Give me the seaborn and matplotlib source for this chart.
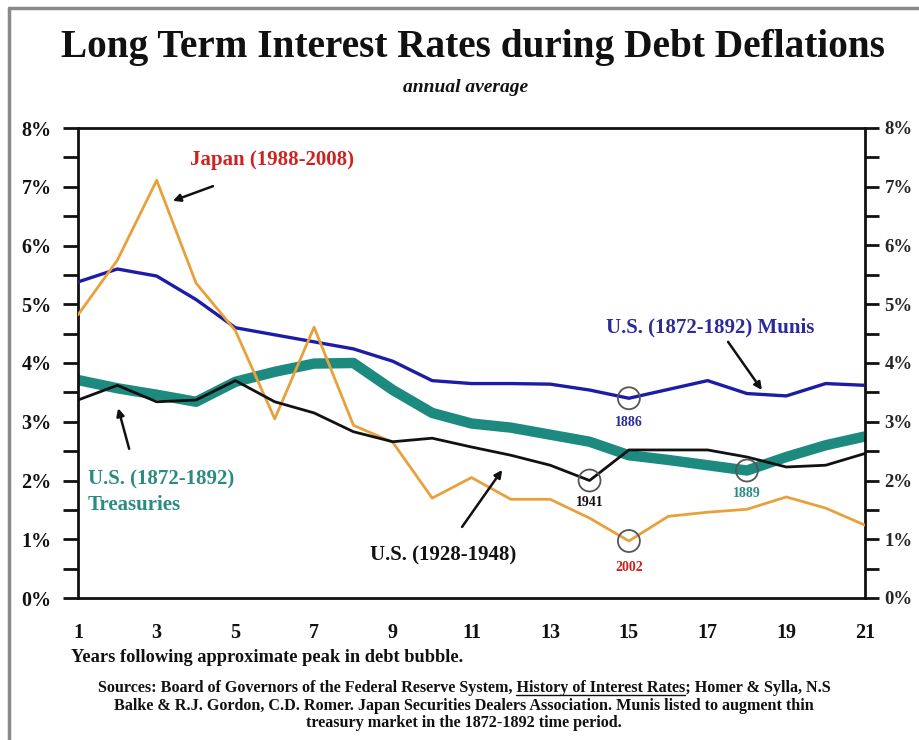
import matplotlib
matplotlib.use("Agg")
import matplotlib.pyplot as plt
import numpy as np
import pandas as pd
import seaborn as sns
from matplotlib.ticker import MultipleLocator, FuncFormatter
from matplotlib.lines import Line2D

# Years following the approximate peak in the debt bubble
years = list(range(1, 22))

# Long-term interest rates, annual average (%)
japan_1988_2008 = [4.82, 5.75, 7.11, 5.36, 4.55, 3.05, 4.61, 2.94, 2.65, 1.70,
                   2.05, 1.68, 1.68, 1.36, 0.97, 1.39, 1.46, 1.51, 1.72, 1.53, 1.24]
us_munis_1872_1892 = [5.38, 5.60, 5.48, 5.08, 4.60, 4.48, 4.36, 4.24, 4.03, 3.70,
                      3.65, 3.65, 3.64, 3.54, 3.40, 3.55, 3.70, 3.48, 3.44, 3.65, 3.62]
us_treasuries_1872_1892 = [3.71, 3.57, 3.46, 3.34, 3.68, 3.85, 3.99, 4.00, 3.54, 3.15,
                           2.97, 2.90, 2.78, 2.66, 2.43, 2.35, 2.26, 2.17, 2.40, 2.60, 2.75]
us_1928_1948 = [3.37, 3.62, 3.34, 3.37, 3.70, 3.34, 3.15, 2.83, 2.66, 2.72,
                2.57, 2.43, 2.26, 2.00, 2.52, 2.52, 2.52, 2.40, 2.23, 2.26, 2.46]

y_ticks = [0, 1, 2, 3, 4, 5, 6, 7, 8]
x_ticks = list(range(1, 22, 2))

# Highlighted lows: (series, year index, label, label colour)
lows = [
    ("munis", 15, "1886", "#2b2b9a"),
    ("us1928", 14, "1941", "#111111"),
    ("treasuries", 18, "1889", "#2a8c80"),
    ("japan", 15, "2002", "#cc2222"),
]

df = pd.DataFrame({
    "year": years,
    "japan": japan_1988_2008,
    "munis": us_munis_1872_1892,
    "treasuries": us_treasuries_1872_1892,
    "us1928": us_1928_1948,
})

sns.set_style("white")
plt.rcParams["font.family"] = ["Liberation Serif", "DejaVu Serif"]
plt.rcParams["font.weight"] = "bold"

fig = plt.figure(figsize=(9.19, 7.40), dpi=100)
ax = fig.add_axes([78 / 919, 1 - 598 / 740, (865 - 78) / 919, (598 - 128) / 740])

C_JAPAN = "#e8a13a"
C_MUNIS = "#1c1ca8"
C_TREAS = "#1d8a80"
C_US = "#111111"

sns.lineplot(data=df, x="year", y="treasuries", ax=ax, color=C_TREAS, lw=7.5,
             solid_capstyle="butt", zorder=2)
sns.lineplot(data=df, x="year", y="munis", ax=ax, color=C_MUNIS, lw=2.4, zorder=3)
sns.lineplot(data=df, x="year", y="japan", ax=ax, color=C_JAPAN, lw=2.0, zorder=3)
sns.lineplot(data=df, x="year", y="us1928", ax=ax, color=C_US, lw=2.0, zorder=4)

# Open circles on the lows, with the calendar year underneath
label_offsets = {"1886": -0.41, "1941": -0.38, "1889": -0.39, "2002": -0.45}
for col, yr, txt, tcol in lows:
    val = df.loc[df["year"] == yr, col].iloc[0]
    ax.scatter([yr], [val], s=250, facecolors="none", edgecolors="#555555",
               linewidths=1.3, zorder=6)
    ax.text(yr, val + label_offsets[txt], txt, color=tcol, fontsize=10,
            fontweight="bold", ha="center", va="center", zorder=6)

ax.set_xlim(1, 21)
ax.set_ylim(0, 8)
ax.set_xticks(x_ticks)
ax.set_xticklabels([str(v) for v in x_ticks])
ax.set_yticks(y_ticks)
ax.yaxis.set_minor_locator(MultipleLocator(0.5))
pct = FuncFormatter(lambda v, p: f"{int(round(v))}%")
ax.yaxis.set_major_formatter(pct)
ax.set_xlabel("")
ax.set_ylabel("")

for s in ax.spines.values():
    s.set_visible(True)
    s.set_color("#111111")
    s.set_linewidth(2.0)

ax.tick_params(axis="both", which="both", direction="out", color="#111111",
               width=2.0, labelsize=14.5, labelcolor="#111111")
ax.tick_params(axis="y", which="major", length=11, pad=8)
ax.tick_params(axis="y", which="minor", length=11)
ax.tick_params(axis="x", which="major", length=10, pad=8)
for lab in ax.get_xticklabels() + ax.get_yticklabels():
    lab.set_fontweight("bold")

# Mirrored percentage axis on the right
ax2 = ax.twinx()
ax2.set_ylim(0, 8)
ax2.set_yticks(y_ticks)
ax2.yaxis.set_minor_locator(MultipleLocator(0.5))
ax2.yaxis.set_major_formatter(pct)
ax2.tick_params(axis="y", which="both", direction="out", color="#111111",
                width=2.0, length=10, labelsize=13.5, pad=4)
for lab in ax2.get_yticklabels():
    lab.set_fontweight("bold")
for s in ax2.spines.values():
    s.set_visible(False)

# Series annotations
arrow = dict(arrowstyle="-|>", color="#111111", lw=1.8, mutation_scale=11,
             shrinkA=0, shrinkB=0)
ax.text(5.93, 7.46, "Japan (1988-2008)", color="#cc2222", fontsize=15,
        fontweight="bold", ha="center", va="center")
ax.annotate("", xy=(3.41, 6.76), xytext=(4.43, 7.01), arrowprops=arrow)

ax.text(17.06, 4.60, "U.S. (1872-1892) Munis", color="#2b2b9a", fontsize=15,
        fontweight="bold", ha="center", va="center")
ax.annotate("", xy=(18.38, 3.54), xytext=(17.52, 4.36), arrowprops=arrow)

ax.text(1.25, 1.80, "U.S. (1872-1892)\nTreasuries", color="#2a8c80", fontsize=15,
        fontweight="bold", ha="left", va="center", linespacing=1.35)
ax.annotate("", xy=(2.02, 3.23), xytext=(2.30, 2.54), arrowprops=arrow)

ax.text(8.42, 0.73, "U.S. (1928-1948)", color="#111111", fontsize=15,
        fontweight="bold", ha="left", va="center")
ax.annotate("", xy=(11.78, 2.18), xytext=(10.76, 1.21), arrowprops=arrow)

# Titles
fig.text(0.515, 1 - 48 / 740, "Long Term Interest Rates during Debt Deflations",
         fontsize=28.3, fontweight="bold", ha="center", va="center", color="#111111")
fig.text(0.507, 1 - 87 / 740, "annual average", fontsize=14, fontweight="bold",
         style="italic", ha="center", va="center", color="#111111")

fig.text(71 / 919, 1 - 658 / 740, "Years following approximate peak in debt bubble.",
         fontsize=13.2, fontweight="bold", ha="left", va="center", color="#111111")

src_kw = dict(fontsize=11.6, fontweight="bold", va="center", color="#111111")
line1_pre = "Sources: Board of Governors of the Federal Reserve System, "
line1_ul = "History of Interest Rates"
line1_post = "; Homer & Sylla, N.S"
t1 = fig.text(0.505, 1 - 688 / 740, line1_pre + line1_ul + line1_post,
              ha="center", **src_kw)
fig.text(0.505, 1 - 706 / 740,
         "Balke & R.J. Gordon, C.D. Romer. Japan Securities Dealers Association. "
         "Munis listed to augment thin",
         ha="center", **src_kw)
fig.text(0.505, 1 - 723 / 740, "treasury market in the 1872-1892 time period.",
         ha="center", **src_kw)

# Underline the book title inside the first source line
fig.canvas.draw()
renderer = fig.canvas.get_renderer()
bb_full = t1.get_window_extent(renderer)


def text_width(s):
    tmp = fig.text(0, 0, s, **src_kw)
    w = tmp.get_window_extent(renderer).width
    tmp.remove()
    return w


w_pre = text_width(line1_pre)
w_ul = text_width(line1_ul)
x0 = bb_full.x0 + w_pre
y_ul = bb_full.y0 + 1
fig.add_artist(Line2D([x0 / fig.bbox.width, (x0 + w_ul) / fig.bbox.width],
                      [y_ul / fig.bbox.height] * 2, color="#111111", lw=1.0))

# Frame around the figure
fig.add_artist(Line2D([9 / 919, 9 / 919], [0, 1 - 8 / 740], color="#8a8a8a", lw=2.5))
fig.add_artist(Line2D([9 / 919, 1], [1 - 8 / 740, 1 - 8 / 740], color="#8a8a8a", lw=2.5))

fig.savefig("out.png", dpi=100, facecolor="white")
